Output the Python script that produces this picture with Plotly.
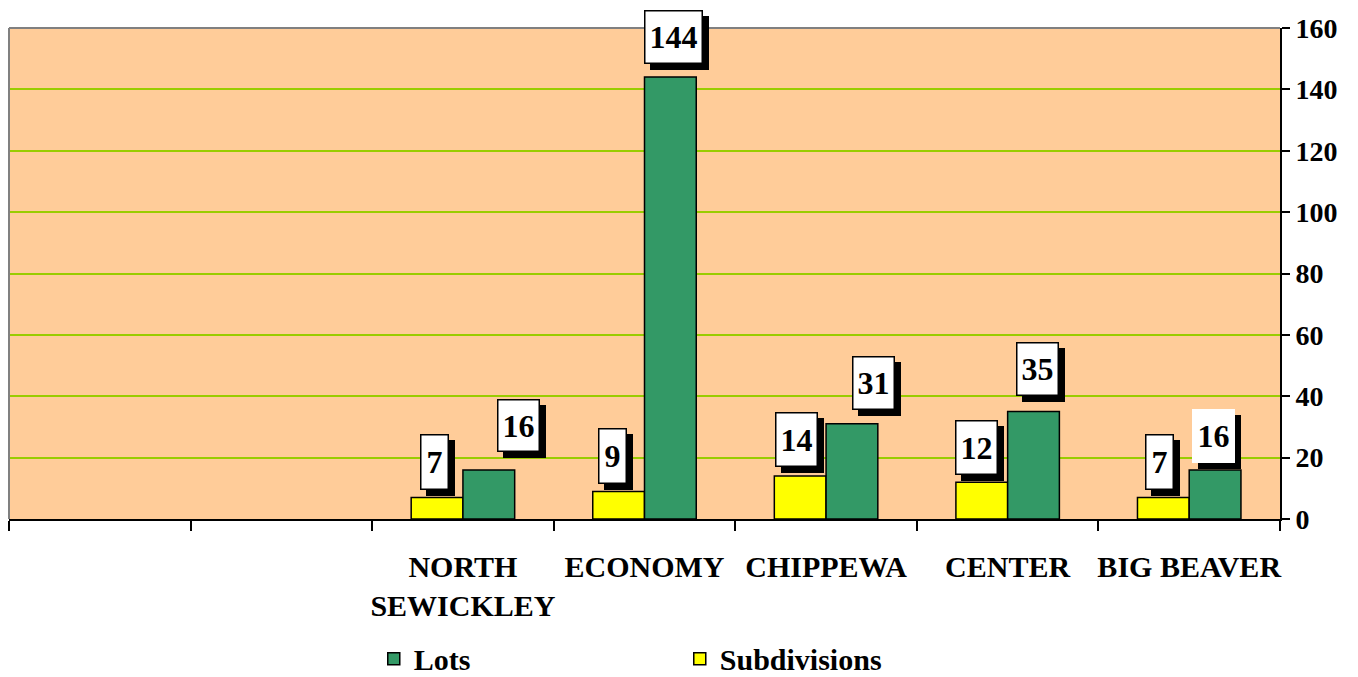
import plotly.graph_objects as go

categories = ["", "", "NORTH<br>SEWICKLEY", "ECONOMY", "CHIPPEWA", "CENTER", "BIG BEAVER"]
subdivisions = [None, None, 7, 9, 14, 12, 7]
lots = [None, None, 16, 144, 31, 35, 16]
y_ticks = [0, 20, 40, 60, 80, 100, 120, 140, 160]

FONT = "Liberation Serif"
idx = list(range(len(categories)))

fig = go.Figure()
fig.add_trace(go.Bar(x=idx, y=subdivisions, name="Subdivisions", legendrank=2,
                     marker=dict(color="#FFFF00", line=dict(color="black", width=1.5))))
fig.add_trace(go.Bar(x=idx, y=lots, name="Lots", legendrank=1,
                     marker=dict(color="#339966", line=dict(color="black", width=1.5))))

bargap = 0.43
half = (1 - bargap) / 4  # center offset of each bar in a group

# label offsets (px) relative to top-center of bar: (dx, dy_up, width, height, border)
sub_off = {2: (-3, 36, 26, 53, True), 3: (-6, 35, 26, 53, True), 4: (-4, 37, 40, 52, True),
           5: (-5, 35, 40, 52, True), 6: (-4, 36, 26, 53, True)}
lot_off = {2: (30, 44, 40, 50, True), 3: (3, 40, 56, 51, True), 4: (22, 41, 40, 51, True),
           5: (4, 43, 40, 51, True), 6: (-2, 34, 40, 51, False)}

annots = []
def add_label(xc, val, off):
    dx, dy, w, h, border = off
    common = dict(x=xc, y=val, xref="x", yref="y", showarrow=False, width=w, height=h,
                  borderpad=0, align="center", valign="middle",
                  font=dict(family=FONT, size=32, color="black", weight="bold"))
    annots.append(dict(text=" ", bgcolor="black", bordercolor="black", borderwidth=1.5,
                       xshift=dx + 6, yshift=dy - 6, **common))
    annots.append(dict(text=str(val), bgcolor="white",
                       bordercolor="black" if border else "white", borderwidth=1.5,
                       xshift=dx, yshift=dy, **common))

for i in idx:
    if subdivisions[i] is not None:
        add_label(i - half, subdivisions[i], sub_off[i])
    if lots[i] is not None:
        add_label(i + half, lots[i], lot_off[i])

fig.update_layout(
    width=1358, height=677,
    margin=dict(l=9, r=78, t=28, b=158, autoexpand=False),
    paper_bgcolor="white", plot_bgcolor="#FFCC99",
    barmode="group", bargap=bargap, bargroupgap=0,
    font=dict(family=FONT, size=30, color="black", weight="bold"),
    showlegend=True,
    legend=dict(orientation="h", x=0.287, xanchor="left", xref="paper",
                y=0.027, yanchor="middle", yref="container",
                entrywidth=261, font=dict(family=FONT, size=30, color="black", weight="bold"),
                bgcolor="rgba(0,0,0,0)", borderwidth=0),
    annotations=annots,
    shapes=[
        dict(type="line", xref="paper", yref="paper", x0=0, x1=1, y0=1, y1=1,
             line=dict(color="#808080", width=2)),
        dict(type="line", xref="paper", yref="paper", x0=0, x1=0, y0=0, y1=1,
             line=dict(color="#808080", width=2)),
    ],
)

fig.update_xaxes(
    range=[-0.5, len(categories) - 0.5], tickmode="array", tickvals=idx, ticktext=categories,
    ticks="outside", ticklen=20, tickcolor="rgba(0,0,0,0)", automargin=False,
    showline=True, linecolor="black", linewidth=2, showgrid=False, zeroline=False,
    tickfont=dict(family=FONT, size=30, color="black", weight="bold"),
    minor=dict(tickmode="array", tickvals=[i - 0.5 for i in range(len(categories) + 1)],
               ticks="outside", ticklen=10, tickcolor="black", tickwidth=2, showgrid=False),
)
fig.update_yaxes(
    side="right", range=[0, 160], tickmode="array", tickvals=y_ticks, automargin=False,
    ticks="outside", ticklen=8, tickcolor="black", tickwidth=2,
    showline=True, linecolor="black", linewidth=2,
    showgrid=True, gridcolor="#99CC00", gridwidth=2, zeroline=False,
    tickfont=dict(family=FONT, size=28, color="black", weight="bold"),
)

fig.write_html("out.html")
